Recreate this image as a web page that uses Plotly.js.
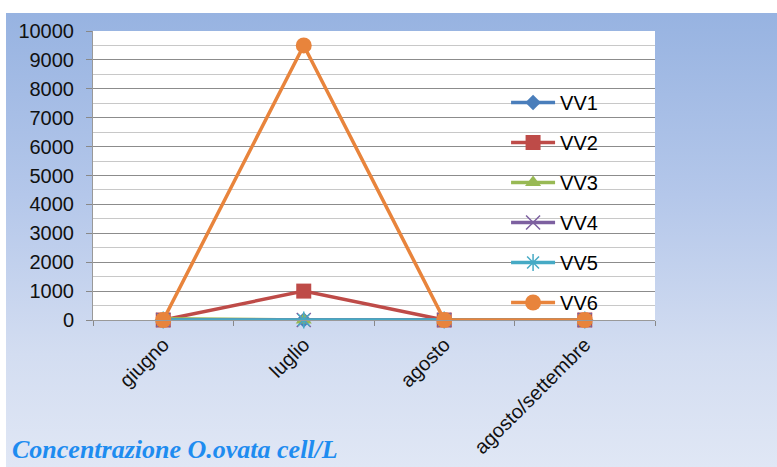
<!DOCTYPE html>
<html>
<head>
<meta charset="utf-8">
<script src="https://cdn.plot.ly/plotly-3.0.1.min.js"></script>
<style>
html,body{margin:0;padding:0;background:#fff;width:777px;height:467px;overflow:hidden;}
#bg{position:absolute;left:6px;top:13px;width:771px;height:454px;background:linear-gradient(to bottom,#97b3e1 0%,#b4c7ea 40%,#d3ddf1 75%,#e0e7f5 100%);}
#chart{position:absolute;left:0;top:0;width:777px;height:467px;}
</style>
</head>
<body>
<div id="bg"></div>
<div id="chart"></div>
<script>
const categories = ["giugno", "luglio", "agosto", "agosto/settembre"];
const seriesNames = ["VV1", "VV2", "VV3", "VV4", "VV5", "VV6"];
const vv1 = [0, 0, 0, 0];
const vv2 = [0, 1000, 0, 0];
const vv3 = [40, 0, 0, 0];
const vv4 = [0, 0, 0, 0];
const vv5 = [0, 0, 0, 0];
const vv6 = [0, 9500, 0, 0];
const seriesValues = [vv1, vv2, vv3, vv4, vv5, vv6];
const yTicks = [0,1000,2000,3000,4000,5000,6000,7000,8000,9000,10000];
const yTickLabels = ["0","1000","2000","3000","4000","5000","6000","7000","8000","9000","10000"];
const chartTitle = "Concentrazione O.ovata cell/L";

const colors = ["#4a7ebb", "#be4b48", "#98b954", "#7d60a0", "#46aac5", "#e8843c"];
const symbols = ["diamond", "square", "triangle-up", "x-thin-open", "asterisk-open", "circle"];
const sizes = [12, 15, 14, 14, 14, 16];

const traces = seriesNames.map((n, i) => ({
  type: "scatter", mode: "lines+markers", name: n, x: categories, y: seriesValues[i],
  legendgroup: n,
  line: {color: colors[i], width: 3.5},
  marker: {symbol: symbols[i], size: sizes[i], color: colors[i], line: {color: colors[i], width: (i===3||i===4)?1.5:0}},
  cliponaxis: false
}));

const layout = {
  width: 777, height: 467,
  margin: {l: 93, r: 122, t: 31, b: 147},
  paper_bgcolor: "rgba(0,0,0,0)",
  plot_bgcolor: "#ffffff",
  showlegend: true,
  legend: {x: 0.735, y: 0.82, xanchor: "left", yanchor: "top", bgcolor: "rgba(0,0,0,0)",
    font: {family: "Liberation Sans, Arial, sans-serif", size: 20, color: "#000"},
    traceorder: "grouped", tracegroupgap: 11, itemwidth: 44},
  title: {text: "<b><i>" + chartTitle + "</i></b>", xref: "container", yref: "container",
    x: 12/777, xanchor: "left", y: 1 - 449/467, yanchor: "middle",
    font: {family: "Liberation Serif, Times New Roman, serif", size: 26, color: "#1e8cf0"}},
  xaxis: {type: "category", tickson: "boundaries", ticks: "outside", ticklen: 5, tickcolor: "#888",
    ticklabelstandoff: 4,
    showline: true, linecolor: "#999", linewidth: 1, showgrid: false, tickangle: -45,
    tickfont: {family: "Liberation Sans, Arial, sans-serif", size: 20, color: "#111"},
    range: [-0.5, 3.5]},
  yaxis: {range: [0, 10000], tickvals: yTicks, ticktext: yTickLabels, ticks: "outside", ticklen: 6, tickcolor: "#888",
    ticklabelstandoff: 8,
    showline: true, linecolor: "#999", linewidth: 1, gridcolor: "#8c8c8c", gridwidth: 1,
    zeroline: false,
    minor: {dtick: 500, showgrid: true, gridcolor: "#c8c8c8", gridwidth: 1},
    tickfont: {family: "Liberation Sans, Arial, sans-serif", size: 20, color: "#111"}},
  font: {family: "Liberation Sans, Arial, sans-serif"}
};

Plotly.newPlot("chart", traces, layout, {displayModeBar: false, staticPlot: true});
</script>
</body>
</html>
